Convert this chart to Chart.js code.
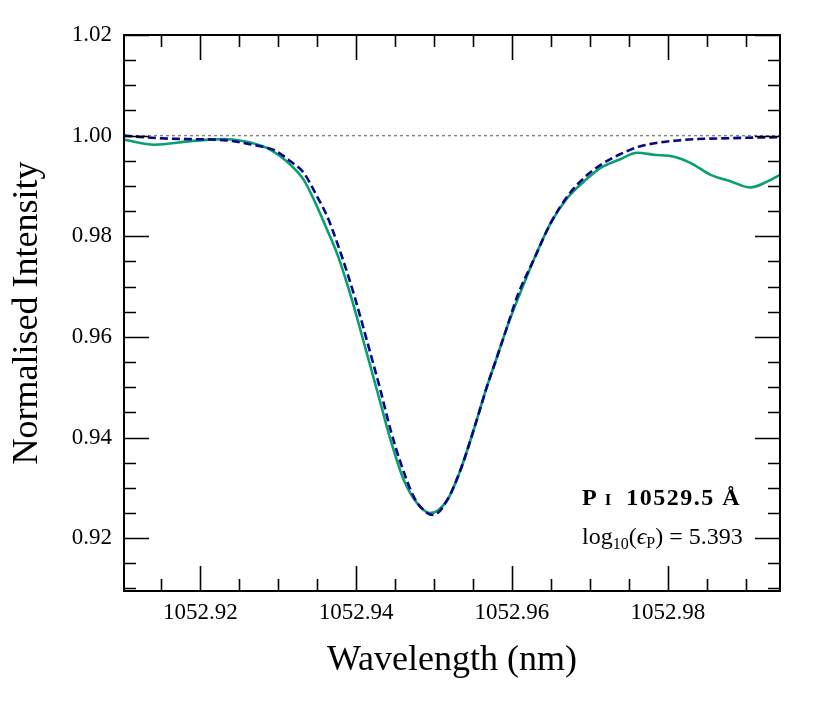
<!DOCTYPE html>
<html>
<head>
<meta charset="utf-8">
<script src="https://cdn.jsdelivr.net/npm/chart.js@4"></script>
<style>
  html, body { margin: 0; padding: 0; background: #fff; }
  #wrap { width: 830px; height: 712px; }
</style>
</head>
<body>
<div id="wrap"><canvas id="lineChart"></canvas></div>
<script>
// observed spectrum (green)
const obsWave = [1052.9102, 1052.9141, 1052.9188, 1052.9231, 1052.9252, 1052.9286, 1052.93156, 1052.93327,
  1052.93477, 1052.93627, 1052.93756, 1052.93863, 1052.93949, 1052.9415, 1052.9429, 1052.9444,
  1052.9461, 1052.9478, 1052.9495, 1052.9517, 1052.9534, 1052.9551, 1052.9568, 1052.9581, 1052.9594,
  1052.96089, 1052.96281, 1052.96496, 1052.9671, 1052.96924, 1052.97138, 1052.97373, 1052.9761,
  1052.9782, 1052.9808, 1052.9829, 1052.9855, 1052.9881, 1052.9906, 1052.9928, 1052.9944];
const obsFlux = [0.9992, 0.9982, 0.9989, 0.9993, 0.9990, 0.9975, 0.9942, 0.9912,
  0.9866, 0.9813, 0.9765, 0.9716, 0.9672, 0.9560, 0.9481, 0.9396,
  0.9316, 0.9270, 0.9250, 0.9276, 0.9336, 0.9416, 0.9502, 0.9561, 0.9621,
  0.9681, 0.9754, 0.9826, 0.9876, 0.9909, 0.9936, 0.9952, 0.9966,
  0.9962, 0.9958, 0.9946, 0.9922, 0.9909, 0.9897, 0.9909, 0.9922];

// synthetic profile (dashed blue)
const modelWave = [1052.9102, 1052.9145, 1052.9188, 1052.9231, 1052.9273, 1052.9295, 1052.93156, 1052.93327,
  1052.93499, 1052.93627, 1052.93756, 1052.93884, 1052.93991, 1052.9418, 1052.9431, 1052.9444,
  1052.9457, 1052.9474, 1052.9491, 1052.9499, 1052.9517, 1052.9534, 1052.9551, 1052.9568, 1052.9581,
  1052.9594, 1052.96068, 1052.96281, 1052.96496, 1052.9671, 1052.96924, 1052.97138, 1052.97373,
  1052.9765, 1052.9817, 1052.9881, 1052.9944];
const modelFlux = [1.0000, 0.9995, 0.9993, 0.9991, 0.9980, 0.9971, 0.9949, 0.9926,
  0.9879, 0.9840, 0.9787, 0.9728, 0.9674, 0.9569, 0.9495, 0.9416,
  0.9350, 0.9282, 0.9250, 0.9246, 0.9276, 0.9336, 0.9416, 0.9502, 0.9561,
  0.9621, 0.9681, 0.9754, 0.9826, 0.9879, 0.9916, 0.9942, 0.9962,
  0.9979, 0.9991, 0.9995, 0.9997];

const continuum = 1.0;
const xTicks = [1052.92, 1052.94, 1052.96, 1052.98];
const yTicks = [0.92, 0.94, 0.96, 0.98, 1.00, 1.02];
const xRange = [1052.9102, 1052.9944];
const yRange = [0.9095, 1.02];

const serif = "'Liberation Serif', 'DejaVu Serif', serif";

function toPoints(xs, ys) {
  return xs.map((v, i) => ({ x: v, y: ys[i] }));
}

// white background
const background = {
  id: 'background',
  beforeDraw(chart) {
    const ctx = chart.ctx;
    ctx.save();
    ctx.fillStyle = '#fff';
    ctx.fillRect(0, 0, chart.width, chart.height);
    ctx.restore();
  }
};

// box round the plot with inward ticks on all four sides
const frame = {
  id: 'frame',
  afterDatasetsDraw(chart) {
    const { ctx, chartArea: a, scales: { x, y } } = chart;
    const step = 0.005;
    ctx.save();
    ctx.strokeStyle = '#000';
    ctx.lineWidth = 1.6;
    ctx.beginPath();
    for (let k = Math.ceil(x.min / step - 1e-6); k * step <= x.max + 1e-9; k++) {
      const px = Math.round(x.getPixelForValue(k * step)) + 0.5;
      const len = k % 4 === 0 ? 25 : 12;
      ctx.moveTo(px, a.bottom); ctx.lineTo(px, a.bottom - len);
      ctx.moveTo(px, a.top); ctx.lineTo(px, a.top + len);
    }
    for (let k = Math.ceil(y.min / step - 1e-6); k * step <= y.max + 1e-9; k++) {
      const py = Math.round(y.getPixelForValue(k * step)) + 0.5;
      const len = k % 4 === 0 ? 25 : 12;
      ctx.moveTo(a.left, py); ctx.lineTo(a.left + len, py);
      ctx.moveTo(a.right, py); ctx.lineTo(a.right - len, py);
    }
    ctx.stroke();
    ctx.lineWidth = 2;
    ctx.strokeRect(a.left, a.top, a.right - a.left, a.bottom - a.top);

    // line label
    let tx = a.left + 458;
    let ty = a.top + 470;
    ctx.fillStyle = '#000';
    ctx.textBaseline = 'alphabetic';
    ctx.textAlign = 'left';
    const put = (txt, font, dy = 0, sp = '0px') => {
      ctx.font = font;
      ctx.letterSpacing = sp;
      ctx.fillText(txt, tx, ty + dy);
      tx += ctx.measureText(txt).width;
    };
    put('P', `bold 24px ${serif}`);
    tx += 8;
    put('I', `bold 17px ${serif}`);
    tx += 15;
    put('10529.5 Å', `bold 24px ${serif}`, 0, '1.5px');

    tx = a.left + 458;
    ty = a.top + 509;
    put('log', `24px ${serif}`);
    put('10', `16px ${serif}`, 5);
    put('(', `24px ${serif}`);
    put('ϵ', `italic 24px ${serif}`);
    put('P', `16px ${serif}`, 4);
    put(') = 5.393', `24px ${serif}`);
    ctx.restore();
  }
};

const data = {
  datasets: [
    {
      label: 'Model',
      data: toPoints(modelWave, modelFlux),
      borderColor: '#07078a',
      borderWidth: 2.6,
      borderDash: [8, 4],
      pointRadius: 0,
      cubicInterpolationMode: 'monotone'
    },
    {
      label: 'Observed',
      data: toPoints(obsWave, obsFlux),
      borderColor: '#0a9e73',
      borderWidth: 2.6,
      pointRadius: 0,
      cubicInterpolationMode: 'monotone'
    },
    {
      label: 'Continuum',
      data: toPoints(xRange, [continuum, continuum]),
      borderColor: '#808080',
      borderWidth: 1.4,
      borderDash: [3, 3],
      pointRadius: 0
    }
  ]
};

new Chart(document.getElementById('lineChart'), {
  type: 'line',
  data,
  options: {
    responsive: true,
    maintainAspectRatio: false,
    animation: false,
    clip: false,
    layout: { padding: { top: 35, right: 50, bottom: 0, left: 0 } },
    plugins: {
      legend: { display: false },
      tooltip: { enabled: false }
    },
    scales: {
      x: {
        type: 'linear',
        min: xRange[0],
        max: xRange[1],
        afterBuildTicks: s => { s.ticks = xTicks.map(v => ({ value: v })); },
        afterFit: s => { s.height = 121; },
        grid: { display: false, drawTicks: false },
        border: { display: false },
        ticks: {
          color: '#000',
          padding: 8,
          maxRotation: 0,
          font: { family: serif, size: 23 },
          callback: v => v.toFixed(2)
        },
        title: {
          display: true,
          text: 'Wavelength (nm)',
          color: '#000',
          font: { family: serif, size: 36 },
          padding: { top: 0, bottom: 30 }
        }
      },
      y: {
        min: yRange[0],
        max: yRange[1],
        afterBuildTicks: s => { s.ticks = yTicks.map(v => ({ value: v })); },
        afterFit: s => { s.width = 124; },
        grid: { display: false, drawTicks: false },
        border: { display: false },
        ticks: {
          color: '#000',
          padding: 12,
          font: { family: serif, size: 23 },
          callback: v => v.toFixed(2)
        },
        title: {
          display: true,
          text: 'Normalised Intensity',
          color: '#000',
          font: { family: serif, size: 36 },
          padding: { top: 6, bottom: 0 }
        }
      }
    }
  },
  plugins: [background, frame]
});
</script>
</body>
</html>
